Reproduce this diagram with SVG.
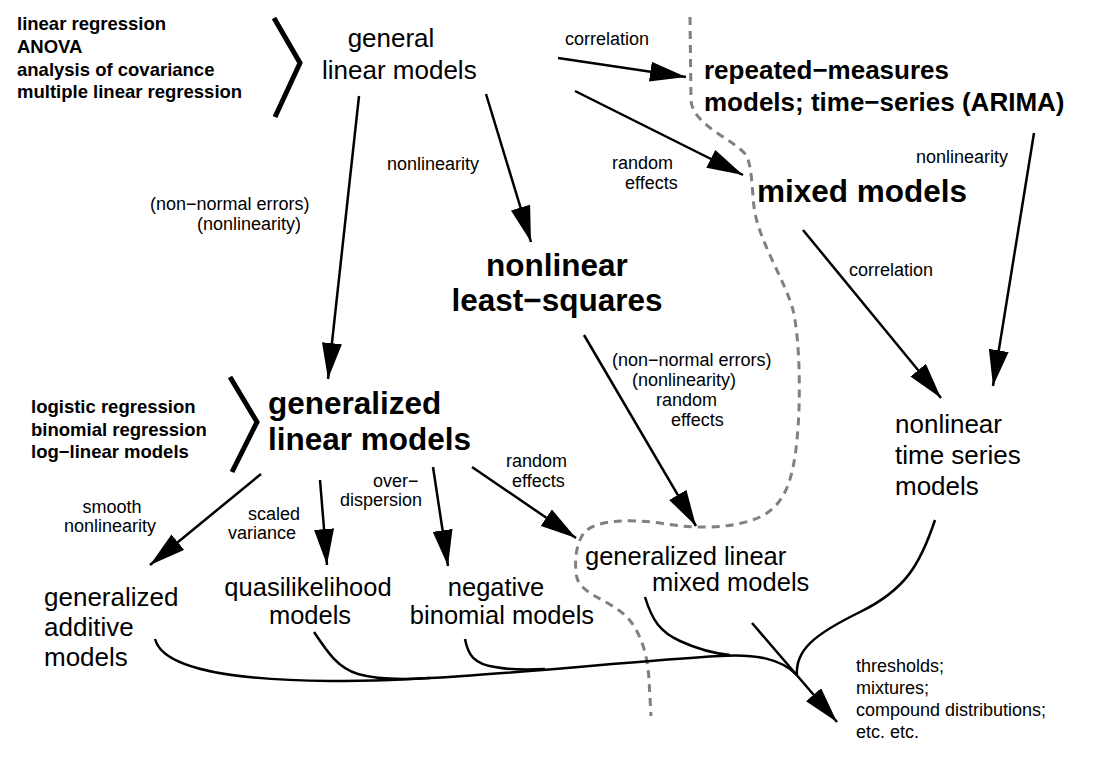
<svg xmlns="http://www.w3.org/2000/svg" width="1112" height="758" viewBox="0 0 1112 758">
<style>
text{font-family:"Liberation Sans",Arial,Helvetica,sans-serif;fill:#000}
.lst{font-size:18.5px;font-weight:bold}
.lbl{font-size:18px}
.reg{font-size:26px}
.sm{font-size:25.5px}
.med{font-size:26px;font-weight:bold}
.big{font-size:31.5px;font-weight:bold}
.mid{text-anchor:middle}
.arr{stroke:#000;stroke-width:2.5;fill:none;marker-end:url(#ah)}
.ln{stroke:#000;stroke-width:2.5;fill:none}
.brk{stroke:#000;stroke-width:5;fill:none}
.dash{stroke:#808080;stroke-width:3;fill:none;stroke-dasharray:8 6}
</style>
<defs>
<marker id="ah" viewBox="0 0 36 20" refX="36" refY="10" markerWidth="36" markerHeight="20" markerUnits="userSpaceOnUse" orient="auto">
<path d="M0,0 L36,10 L0,20 z" fill="#000"/>
</marker>
</defs>
<rect width="1112" height="758" fill="#fff"/>

<g id="boundary">
<path class="dash" d="M690,17 L691,100 C692,125 735,140 746,155 C752,165 752,190 754,207 C758,240 785,280 793,310 C800,340 801,400 797,440 C793,480 785,505 760,517 C735,528 700,530 660,523 C630,519 600,520 587,530 C575,540 574,565 577,578 C582,595 610,600 627,617 C643,635 648,660 649,680 L651,716"/>
</g>

<g id="connectors">
<line class="arr" x1="558" y1="58" x2="686" y2="77"/>
<line class="arr" x1="575" y1="91" x2="743" y2="175"/>
<line class="arr" x1="486" y1="94" x2="531" y2="242"/>
<line class="arr" x1="359" y1="96" x2="328" y2="379"/>
<line class="arr" x1="1034" y1="133" x2="993" y2="386"/>
<line class="arr" x1="803" y1="230" x2="941" y2="398"/>
<line class="arr" x1="584" y1="335" x2="696" y2="526"/>
<line class="arr" x1="261" y1="474" x2="150" y2="565"/>
<line class="arr" x1="320" y1="480" x2="327" y2="565"/>
<line class="arr" x1="433" y1="467" x2="448" y2="566"/>
<line class="arr" x1="472" y1="467" x2="576" y2="538"/>
<line class="arr" x1="752" y1="623" x2="837" y2="722"/>
<path class="ln" d="M155,639 C163,670 235,680 330,681 C460,681 610,662 720,656 C755,654 780,658 797,675"/>
<path class="ln" d="M314,632 C328,653 338,668 358,674 C375,679 400,680 430,678"/>
<path class="ln" d="M465,639 C468,655 474,664 495,667 C510,670 525,670 545,669"/>
<path class="ln" d="M645,597 C652,620 660,632 680,641 C695,648 710,653 730,655"/>
<path class="ln" d="M935,520 C920,565 905,590 860,612 C815,634 795,650 797,675"/>
<g id="edge-labels">
<text class="lbl" x="565" y="45">correlation</text>
<text class="lbl" x="612" y="169">random</text>
<text class="lbl" x="625" y="189">effects</text>
<text class="lbl" x="387" y="170">nonlinearity</text>
<text class="lbl" x="150" y="210">(non−normal errors)</text>
<text class="lbl" x="197" y="230">(nonlinearity)</text>
<text class="lbl" x="916" y="163">nonlinearity</text>
<text class="lbl" x="849" y="276">correlation</text>
<text class="lbl" x="612" y="366">(non−normal errors)</text>
<text class="lbl" x="632" y="386">(nonlinearity)</text>
<text class="lbl" x="656" y="406">random</text>
<text class="lbl" x="671" y="426">effects</text>
<text class="lbl mid" x="112" y="513">smooth</text>
<text class="lbl mid" x="110" y="532">nonlinearity</text>
<text class="lbl" x="248" y="520">scaled</text>
<text class="lbl" x="228" y="539">variance</text>
<text class="lbl" x="373" y="487">over−</text>
<text class="lbl" x="340" y="506">dispersion</text>
<text class="lbl" x="506" y="467">random</text>
<text class="lbl" x="512" y="487">effects</text>
</g>
</g>

<g id="general-linear-models">
<text class="lst" x="17" y="30">linear regression</text>
<text class="lst" x="17" y="53">ANOVA</text>
<text class="lst" x="17" y="76">analysis of covariance</text>
<text class="lst" x="17" y="98">multiple linear regression</text>
<polyline class="brk" points="274,18 300,63 275,117"/>
<text class="reg mid" x="391" y="47">general</text>
<text class="reg" x="322" y="79">linear models</text>
</g>

<g id="repeated-measures">
<text class="med" x="704" y="79">repeated−measures</text>
<text class="med" x="704" y="111">models; time−series (ARIMA)</text>
</g>

<g id="mixed-models">
<text class="big" x="757" y="202">mixed models</text>
</g>

<g id="nonlinear-least-squares">
<text class="big mid" x="557" y="276">nonlinear</text>
<text class="big mid" x="557" y="311">least−squares</text>
</g>

<g id="generalized-linear-models">
<text class="lst" x="31" y="413">logistic regression</text>
<text class="lst" x="31" y="436">binomial regression</text>
<text class="lst" x="31" y="458">log−linear models</text>
<polyline class="brk" points="230,377 257,422 232,472"/>
<text class="big" x="268" y="414">generalized</text>
<text class="big" x="268" y="450">linear models</text>
</g>

<g id="nonlinear-time-series">
<text class="reg" x="895" y="433">nonlinear</text>
<text class="reg" x="895" y="464">time series</text>
<text class="reg" x="895" y="495">models</text>
</g>

<g id="generalized-additive">
<text class="reg" x="44" y="606">generalized</text>
<text class="reg" x="44" y="636">additive</text>
<text class="reg" x="44" y="666">models</text>
</g>

<g id="quasilikelihood">
<text class="sm mid" x="308" y="596">quasilikelihood</text>
<text class="sm mid" x="310" y="624">models</text>
</g>

<g id="negative-binomial">
<text class="sm mid" x="496" y="596">negative</text>
<text class="sm mid" x="502" y="624">binomial models</text>
</g>

<g id="glmm">
<text class="sm" x="585" y="565">generalized linear</text>
<text class="sm" x="652" y="591">mixed models</text>
</g>

<g id="extensions">
<text class="lbl" x="856" y="672">thresholds;</text>
<text class="lbl" x="856" y="694">mixtures;</text>
<text class="lbl" x="856" y="716">compound distributions;</text>
<text class="lbl" x="856" y="738">etc. etc.</text>
</g>
</svg>
